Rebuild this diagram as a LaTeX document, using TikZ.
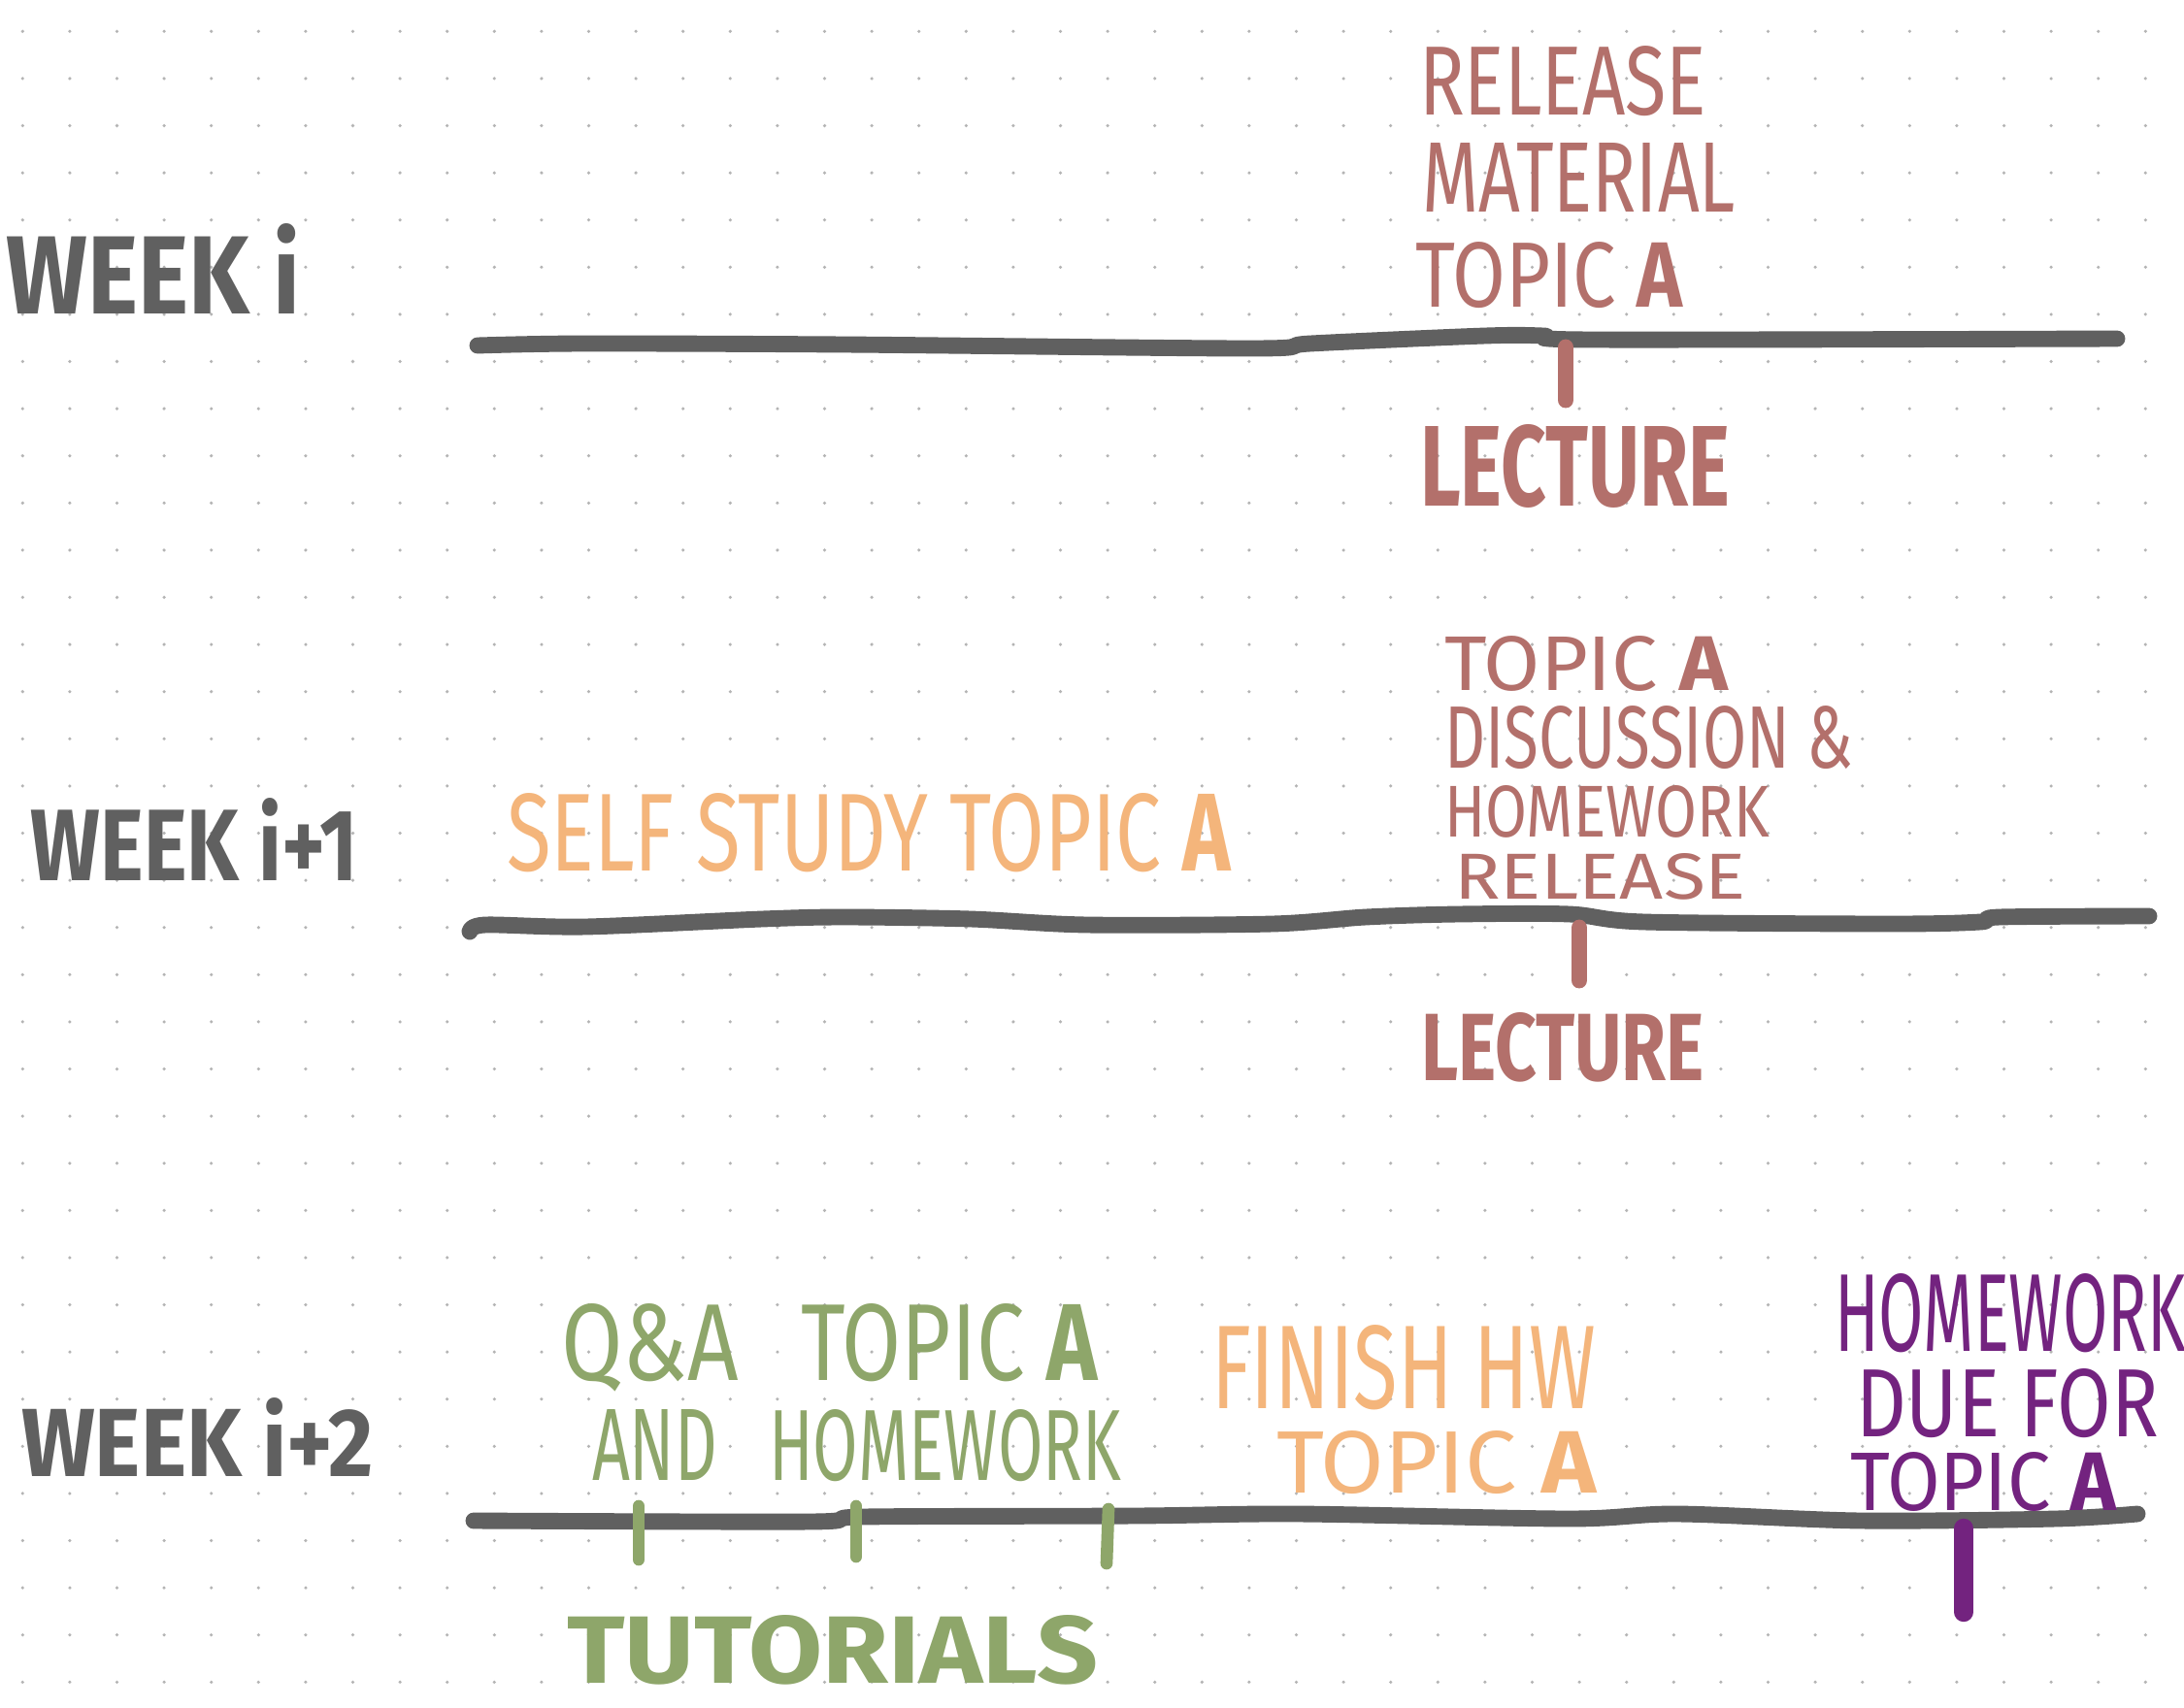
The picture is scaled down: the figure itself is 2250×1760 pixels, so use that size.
\documentclass[tikz,border=0pt]{standalone}
\usepackage{fontspec}
\usepackage{graphicx}
\newfontfamily\thinf{Fira Sans}
\newfontfamily\boldfam{Fira Sans}
\newcommand\boldf{\boldfam\bfseries}
\definecolor{grayc}{HTML}{606060}
\definecolor{rosec}{HTML}{B3706B}
\definecolor{orangec}{HTML}{F4B57B}
\definecolor{greenc}{HTML}{8EA66A}
\definecolor{purplec}{HTML}{73237F}
\definecolor{dotc}{HTML}{B4B4B4}
\newlength\px
\setlength\px{0.01cm}
\newcommand\hw[6]{\node[hwt,text=#5] (#1) at (#2) {\resizebox{#3\px}{#4\px}{#6}};}
\begin{document}
\begin{tikzpicture}[x=0.01cm,y=-0.01cm,
  hwt/.style={anchor=north west,inner sep=0pt,outer sep=0pt},
  tl/.style={line width=4.8pt,draw=grayc,line cap=round,line join=round},
  tickr/.style={line width=4.8pt,draw=rosec,line cap=round},
  tickg/.style={line width=3.6pt,draw=greenc,line cap=round},
  tickp/.style={line width=5.8pt,draw=purplec,line cap=round}]
\useasboundingbox[fill=white] (0,0) rectangle (2250,1760);
\foreach \i in {0,...,45}{\foreach \j in {0,...,35}{\fill[dotc] (23.3+48.6*\i,32.3+48.6*\j) circle (0.5pt);}}
% week labels
\hw{wk1}{7,230}{302}{93}{grayc}{\boldf WEEK i}
\hw{wk2}{32,822}{337}{85}{grayc}{\boldf WEEK i+1}
\hw{wk3}{22,1440}{363}{81}{grayc}{\boldf WEEK i+2}
% timelines
\draw[tl] plot[smooth,tension=0.5] coordinates {(492,356) (600,354) (870,355) (1290,359) (1350,354) (1530,346) (1590,346) (1640,350) (2181,349)};
\draw[tl] plot[smooth,tension=0.5] coordinates {(484,960) (500,953) (603,955) (785,947) (870,945) (1000,947) (1120,953) (1311,952) (1407,945) (1502,942) (1617,942) (1694,950) (1950,952) (2040,950) (2060,945) (2214,944)};
\draw[tl] plot[smooth,tension=0.5] coordinates {(488,1567) (835,1568) (890,1563) (1170,1562) (1337,1560) (1616,1565) (1728,1560) (1917,1567) (2118,1565) (2202,1560)};
% ticks
\draw[tickr] (1613,358) -- (1613,412);
\draw[tickr] (1627,956) -- (1627,1010);
\draw[tickg] (658,1552) -- (658,1607);
\draw[tickg] (882,1552) -- (882,1604);
\draw[tickg] (1142,1555) -- (1140,1611);
\draw[tickp] (2023,1575) -- (2023,1661);
% week i
\hw{rel1}{1462,47}{296}{71}{rosec}{\thinf RELEASE}
\hw{mat1}{1465,147}{323}{71}{rosec}{\thinf MATERIAL}
\hw{top1}{1458,249}{275}{67}{rosec}{\thinf TOPIC {\boldf A}}
\hw{lec1}{1463,437}{319}{84}{rosec}{\boldf LECTURE}
% week i+1
\hw{self}{522,817}{746}{80}{orangec}{\thinf SELF STUDY TOPIC {\boldf A}}
\hw{top2}{1488,655}{292}{56}{rosec}{\thinf TOPIC {\boldf A}}
\hw{dis2}{1488,727}{421}{64}{rosec}{\thinf DISCUSSION \&}
\hw{hom2}{1488,809}{335}{53}{rosec}{\thinf HOMEWORK}
\hw{rel2}{1498,879}{301}{47}{rosec}{\thinf RELEASE}
\hw{lec2}{1464,1043}{292}{70}{rosec}{\boldf LECTURE}
% week i+2
\hw{qa}{578,1343}{183}{79}{greenc}{\thinf Q\&A}
\hw{top3}{825,1343}{306}{79}{greenc}{\thinf TOPIC {\boldf A}}
\hw{and}{610,1452}{129}{73}{greenc}{\thinf AND}
\hw{hom3}{792,1452}{363}{73}{greenc}{\thinf HOMEWORK}
\hw{tut}{584,1664}{547}{70}{greenc}{\boldf TUTORIALS}
\hw{fin}{1248,1365}{396}{86}{orangec}{\thinf FINISH HW}
\hw{top4}{1315,1474}{329}{64}{orangec}{\thinf TOPIC {\boldf A}}
\hw{hom4}{1890,1312}{362}{80}{purplec}{\thinf HOMEWORK}
\hw{due}{1912,1410}{312}{70}{purplec}{\thinf DUE FOR}
\hw{top5}{1906,1496}{274}{60}{purplec}{\thinf TOPIC {\boldf A}}
\end{tikzpicture}
\end{document}
